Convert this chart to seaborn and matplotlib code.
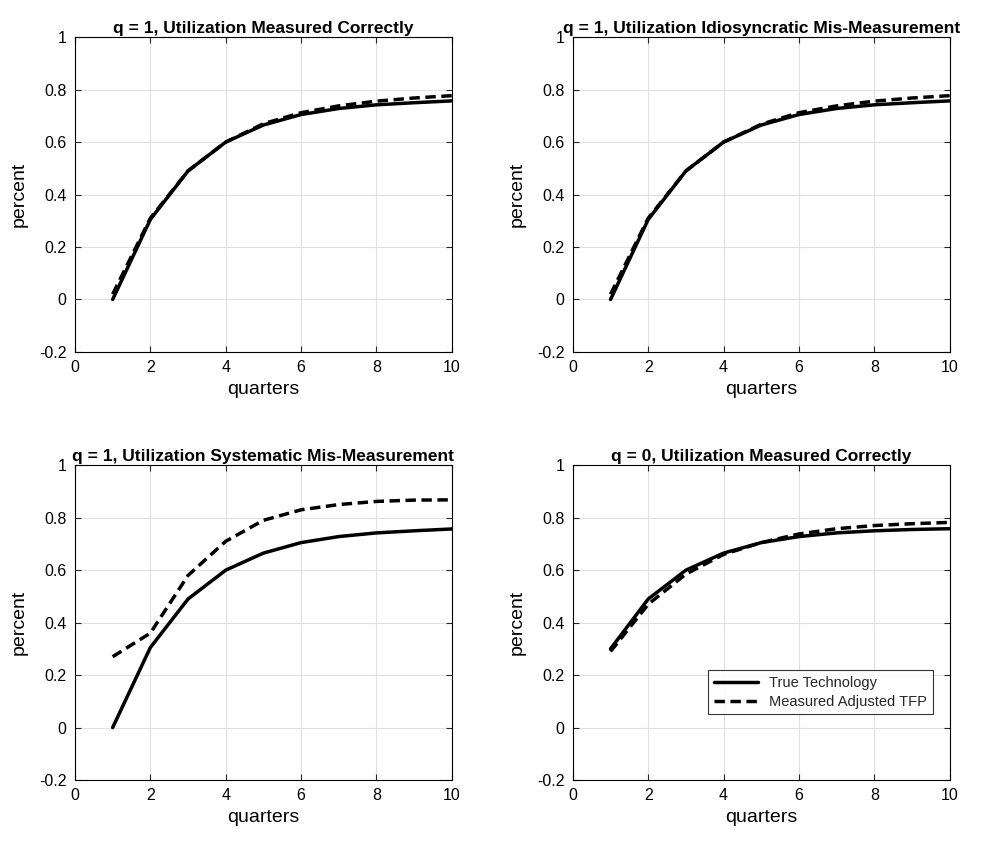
import numpy as np
import pandas as pd
import seaborn as sns
import matplotlib.pyplot as plt

sns.set_style("white")
plt.rcParams['font.family'] = ['Liberation Sans', 'DejaVu Sans']

quarters = list(range(1, 11))
true_q1 = [0.0, 0.305, 0.49, 0.60, 0.665, 0.705, 0.728, 0.742, 0.750, 0.757]
meas_correct = [0.02, 0.31, 0.49, 0.60, 0.67, 0.712, 0.738, 0.756, 0.768, 0.777]
meas_idio = [0.02, 0.31, 0.49, 0.60, 0.668, 0.712, 0.738, 0.756, 0.768, 0.777]
meas_syst = [0.27, 0.36, 0.58, 0.71, 0.79, 0.83, 0.85, 0.862, 0.867, 0.868]
true_q0 = [0.30, 0.49, 0.60, 0.665, 0.705, 0.728, 0.742, 0.750, 0.755, 0.758]
meas_q0 = [0.29, 0.47, 0.585, 0.66, 0.705, 0.738, 0.758, 0.77, 0.777, 0.782]

titles = ["q = 1, Utilization Measured Correctly",
          "q = 1, Utilization Idiosyncratic Mis-Measurement",
          "q = 1, Utilization Systematic Mis-Measurement",
          "q = 0, Utilization Measured Correctly"]
panels = [(true_q1, meas_correct), (true_q1, meas_idio),
          (true_q1, meas_syst), (true_q0, meas_q0)]

fig = plt.figure(figsize=(10.05, 8.44), dpi=100)
lefts = [0.0746, 0.570, 0.0746, 0.570]
bottoms = [0.583, 0.583, 0.0758, 0.0758]

for i in range(4):
    ax = fig.add_axes([lefts[i], bottoms[i], 0.375, 0.373])
    tr, me = panels[i]
    df = pd.DataFrame({"q": quarters * 2, "v": tr + me,
                       "s": ["True Technology"] * 10 + ["Measured Adjusted TFP"] * 10})
    sns.lineplot(data=df, x="q", y="v", style="s", ax=ax, color="black", lw=2.5,
                 dashes={"True Technology": "", "Measured Adjusted TFP": (3, 1.6)},
                 legend=(i == 3))
    ax.set_xlim(0, 10)
    ax.set_ylim(-0.2, 1)
    ax.set_xticks(range(0, 11, 2))
    ax.set_yticks(np.arange(-0.2, 1.01, 0.2))
    ax.set_yticklabels(["-0.2", "0", "0.2", "0.4", "0.6", "0.8", "1"])
    ax.grid(True, color="#e0e0e0", lw=0.8)
    ax.tick_params(labelsize=11.5, labelcolor="black", direction="in", length=4, pad=6,
                   left=True, bottom=True, top=True, right=True)
    for sp in ax.spines.values():
        sp.set_color("black")
        sp.set_linewidth(0.8)
    ax.set_xlabel("quarters", fontsize=14, color="black", labelpad=4)
    ax.set_ylabel("percent", fontsize=14, color="black", labelpad=8)
    ax.set_title(titles[i], fontsize=12.5, fontweight="bold", pad=3, color="black")
    if i == 3:
        ax.legend(loc="lower right", bbox_to_anchor=(0.975, 0.185), fontsize=10.5,
                  frameon=True, fancybox=False, edgecolor="black", handlelength=3,
                  borderpad=0.4, labelspacing=0.3).get_frame().set_linewidth(0.8)

fig.savefig("out.png", dpi=100)
